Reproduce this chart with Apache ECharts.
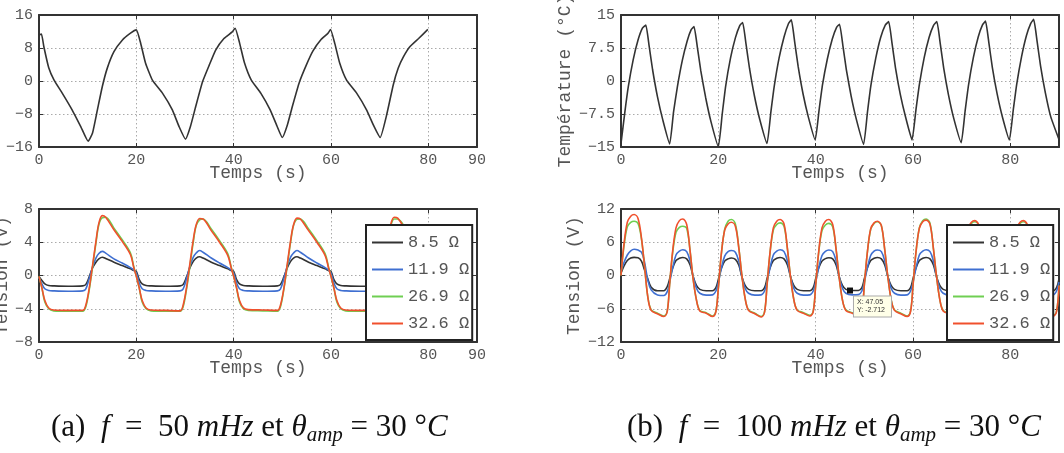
<!DOCTYPE html>
<html><head><meta charset="utf-8">
<script src="https://cdn.jsdelivr.net/npm/echarts@6/dist/echarts.min.js"></script>
<style>html,body{margin:0;padding:0;background:#fff}#c{width:1064px;height:453px}</style>
</head><body><div id="c"></div>
<script>
// ---------- legend / series names ----------
const seriesNames = ['8.5 Ω', '11.9 Ω', '26.9 Ω', '32.6 Ω'];
const seriesColors = ['#333333', '#3f6fd1', '#6fcf52', '#f0502d'];

// ---------- (a) temperature, f = 50 mHz ----------
const tempA_t = [0,0.5,1.0,2.0,3.1,4.8,6.8,8.6,10.1, 11.0,12.0,13.0,14.0,15.4,17.1,18.8,20.0,
  20.9,21.9,23.3,25.4,27.4,28.8,30.1, 31.1,32.2,33.6,35.0,36.3,38.0,39.7,40.3,
  41.2,42.2,43.6,45.6,47.5,48.9,50.0, 51.0,52.1,53.5,54.9,56.3,58.0,59.4,59.9,
  60.8,61.8,63.2,65.3,67.3,68.8,70.1, 71.4,72.8,73.8,74.9,76.2,78.0,79.9];
const tempA_v = [11.1,11.4,8.3,3.2,0.2,-3.0,-7.0,-11.1,-14.6, -12.6,-7.0,-1.4,3.0,7.1,9.9,11.6,12.4,
  9.1,4.3,0.2,-3.0,-7.0,-11.1,-14.1, -11.1,-6.2,-0.2,3.9,7.5,10.3,11.9,12.8,
  9.3,4.5,0.3,-3.0,-7.0,-10.9,-13.7, -10.8,-6.0,-0.3,3.8,7.3,10.1,11.6,12.5,
  9.0,4.3,0.2,-3.0,-7.0,-10.9,-13.7, -8.4,-0.9,3.1,5.9,8.3,10.3,12.5];

// ---------- (a) tension, f = 50 mHz ----------
const tensA_t = [0,0.6,1.2,2,3,6,9,9.6,10.3,11,11.7,12.3,13,13.7,15.4,17.1,18.8,19.5,
  20,20.6,21.2,22,23,26,29,29.6,30.3,31,31.7,32.3,33,33.7,35.4,37.1,38.8,39.5,
  40,40.6,41.2,42,43,46,49,49.6,50.3,51,51.7,52.3,53,53.7,55.4,57.1,58.8,59.5,
  60,60.6,61.2,62,63,66,69,69.6,70.3,71,71.7,72.3,73,73.7,75.4,77.1,78.8,79.5,80];
const tensA_85 = [-0.1,-0.6,-1.0,-1.2,-1.25,-1.3,-1.25,-1.1,-0.2,0.9,1.6,2.0,2.2,2.05,1.6,1.2,0.8,0.6,
  0.5,-0.5,-1.0,-1.2,-1.25,-1.3,-1.25,-1.1,-0.2,0.9,1.7,2.1,2.25,2.1,1.6,1.2,0.8,0.6,
  0.5,-0.5,-1.0,-1.2,-1.25,-1.3,-1.25,-1.1,-0.2,0.9,1.7,2.1,2.25,2.1,1.6,1.2,0.8,0.6,
  0.5,-0.5,-1.0,-1.2,-1.25,-1.3,-1.25,-1.1,-0.2,0.9,1.7,2.1,2.2,2.05,1.6,1.2,0.8,0.6, 0.5];
const tensA_119 = [-0.2,-1.0,-1.6,-1.8,-1.85,-1.9,-1.85,-1.65,-0.4,1.0,2.1,2.65,2.9,2.7,2.0,1.5,0.95,0.65,
  0.3,-0.9,-1.6,-1.8,-1.85,-1.9,-1.85,-1.65,-0.4,1.1,2.2,2.7,3.0,2.8,2.1,1.5,0.95,0.65,
  0.3,-0.9,-1.6,-1.8,-1.85,-1.9,-1.85,-1.65,-0.4,1.1,2.2,2.7,3.0,2.8,2.1,1.5,0.95,0.65,
  0.3,-0.9,-1.6,-1.8,-1.85,-1.9,-1.85,-1.65,-0.4,1.1,2.2,2.7,2.95,2.75,2.1,1.5,0.95,0.65, 0.3];
const tensA_269 = [-0.1,-1.5,-3.2,-4.0,-4.25,-4.3,-4.3,-3.8,-1.8,1.0,3.9,6.1,6.95,7.0,5.7,4.3,2.7,1.0,
  -0.1,-1.5,-3.2,-4.0,-4.25,-4.3,-4.3,-3.8,-1.7,1.1,4.0,6.0,6.7,6.8,5.6,4.2,2.6,1.0,
  -0.1,-1.5,-3.2,-4.0,-4.2,-4.25,-4.3,-3.8,-1.7,1.1,4.0,6.0,6.75,6.8,5.6,4.2,2.6,1.0,
  -0.1,-1.5,-3.2,-4.0,-4.25,-4.3,-4.3,-3.8,-1.7,1.1,4.0,6.0,6.8,6.8,5.6,4.2,2.6,1.0, -0.1];
const tensA_326 = [-0.1,-1.5,-3.0,-3.9,-4.15,-4.2,-4.2,-3.6,-1.6,1.2,4.1,6.3,7.2,7.0,5.5,4.1,2.5,0.9,
  -0.1,-1.5,-3.0,-3.9,-4.15,-4.2,-4.25,-3.6,-1.5,1.4,4.3,6.1,6.85,6.8,5.4,4.0,2.4,0.9,
  -0.1,-1.5,-3.0,-3.9,-4.1,-4.15,-4.2,-3.6,-1.6,1.3,4.2,6.1,6.9,6.8,5.4,4.0,2.4,0.9,
  -0.1,-1.5,-3.0,-3.9,-4.15,-4.2,-4.2,-3.6,-1.6,1.3,4.2,6.2,7.0,6.9,5.4,4.0,2.4,0.9, -0.1];

// ---------- (b) temperature, f = 100 mHz ----------
const tempB_t = [0,0.8,1.5,2.5,3.5,4.4,5.1,5.8,6.5,7.5,8.6,
  10.0,10.8,11.6,12.6,13.6,14.4,15.0,15.7,16.4,17.4,18.5,
  20.0,20.8,21.5,22.5,23.5,24.4,25.0,25.7,26.4,27.4,28.5,
  30.0,30.8,31.5,32.5,33.5,34.4,35.0,35.7,36.4,37.4,38.5,
  39.9,40.7,41.4,42.4,43.4,44.3,44.9,45.6,46.3,47.3,48.4,
  49.85,50.65,51.35,52.35,53.35,54.3,55.0,55.7,56.4,57.4,58.5,
  59.8,60.6,61.3,62.3,63.3,64.2,64.9,65.6,66.3,67.3,68.4,
  69.9,70.7,71.4,72.4,73.4,74.3,74.9,75.6,76.3,77.3,78.4,
  79.8,80.6,81.3,82.3,83.3,84.2,84.8,85.5,86.2,87.2,88.3,
  90.0];
const tempB_v = [-14.2,-7.0,-1.3,4.8,9.3,12.0,12.7,7.8,2.5,-3.6,-8.9,
  -14.3,-7.0,-1.2,4.7,9.1,11.6,12.35,7.6,2.3,-3.8,-9.3,
  -14.9,-7.5,-1.2,5.2,9.8,12.6,13.3,8.3,2.9,-3.3,-8.7,
  -14.2,-7.0,-1.1,5.3,10.0,13.0,13.9,8.8,3.3,-2.9,-8.2,
  -13.4,-6.6,-0.9,5.0,9.5,12.2,12.9,8.0,2.6,-3.5,-8.9,
  -14.4,-7.0,-1.0,5.2,9.9,12.7,13.5,8.5,3.0,-3.1,-8.3,
  -13.4,-6.6,-0.9,5.3,9.9,12.6,13.5,8.5,3.0,-3.2,-8.6,
  -14.0,-6.9,-1.0,5.3,10.0,12.8,13.6,8.6,3.1,-3.0,-8.3,
  -13.4,-6.6,-0.8,5.5,10.3,13.1,14.0,9.0,3.5,-2.7,-8.1,
  -13.3];

// ---------- (b) tension, f = 100 mHz ----------
const tensB_t = [0,0.6,1.3,2,2.7,3.5,4.2,4.8,5.5,6.2,7.5,8.8,9.5,
  10,10.6,11.3,12,12.7,13.5,14.2,14.8,15.5,16.2,17.5,18.8,19.5,
  20,20.6,21.3,22,22.7,23.5,24.2,24.8,25.5,26.2,27.5,28.8,29.5,
  30,30.6,31.3,32,32.7,33.5,34.2,34.8,35.5,36.2,37.5,38.8,39.5,
  40,40.6,41.3,42,42.7,43.5,44.2,44.8,45.5,46.2,47.5,48.8,49.5,
  50,50.6,51.3,52,52.7,53.5,54.2,54.8,55.5,56.2,57.5,58.8,59.5,
  60,60.6,61.3,62,62.7,63.5,64.2,64.8,65.5,66.2,67.5,68.8,69.5,
  70,70.6,71.3,72,72.7,73.5,74.2,74.8,75.5,76.2,77.5,78.8,79.5,
  80,80.6,81.3,82,82.7,83.5,84.2,84.8,85.5,86.2,87.5,88.8,89.5, 90];
const tensB_85 = [0.4,1.7,2.7,3.15,3.27,3.2,2.6,1.1,-0.6,-2.1,-2.75,-2.75,-2.0,
  -0.6,1.3,2.7,3.1,3.25,3.0,1.9,-0.1,-1.8,-2.5,-2.75,-2.75,-2.2,
  -0.7,1.2,2.6,3.0,3.15,2.9,1.9,-0.1,-1.8,-2.5,-2.75,-2.75,-2.2,
  -0.6,1.3,2.7,3.1,3.25,3.0,1.9,-0.1,-1.8,-2.5,-2.75,-2.75,-2.2,
  -0.6,1.3,2.6,3.05,3.2,3.0,1.9,-0.1,-1.8,-2.5,-2.72,-2.72,-2.2,
  -0.6,1.3,2.7,3.1,3.25,3.0,1.9,-0.1,-1.8,-2.5,-2.75,-2.75,-2.2,
  -0.6,1.3,2.7,3.1,3.25,3.0,1.9,-0.1,-1.8,-2.5,-2.75,-2.75,-2.2,
  -0.6,1.3,2.7,3.1,3.2,3.0,1.9,-0.1,-1.8,-2.5,-2.75,-2.75,-2.2,
  -0.6,1.3,2.7,3.1,3.2,3.0,1.9,-0.1,-1.8,-2.5,-2.75,-2.75,-2.2, -0.6];
const tensB_119 = [0.7,2.3,3.7,4.45,4.75,4.6,4.2,2.6,-0.8,-2.6,-3.5,-3.6,-2.9,
  -1.2,1.3,3.7,4.4,4.65,4.3,2.6,-0.1,-2.3,-3.2,-3.55,-3.5,-2.8,
  -1.3,1.2,3.5,4.3,4.5,4.2,2.6,-0.1,-2.3,-3.2,-3.55,-3.5,-2.8,
  -1.2,1.3,3.7,4.4,4.65,4.3,2.6,-0.1,-2.3,-3.2,-3.55,-3.5,-2.8,
  -1.2,1.3,3.6,4.35,4.6,4.3,2.6,-0.1,-2.3,-3.2,-3.5,-3.45,-2.8,
  -1.2,1.3,3.6,4.4,4.6,4.3,2.6,-0.1,-2.3,-3.2,-3.55,-3.5,-2.8,
  -1.2,1.3,3.7,4.4,4.65,4.3,2.6,-0.1,-2.3,-3.2,-3.55,-3.5,-2.8,
  -1.2,1.3,3.6,4.4,4.6,4.3,2.6,-0.1,-2.3,-3.2,-3.55,-3.5,-2.8,
  -1.2,1.3,3.6,4.4,4.6,4.3,2.6,-0.1,-2.3,-3.2,-3.55,-3.5,-2.8, -1.2];
const tensB_269 = [0.0,5.2,8.8,9.6,9.8,9.4,6.6,2.0,-3.8,-6.2,-6.8,-7.3,-6.4,
  -1.5,4.0,7.8,8.7,8.9,8.5,4.4,-0.5,-4.4,-6.3,-6.7,-7.3,-6.4,
  -2.3,3.7,8.3,9.8,10.1,9.3,5.1,0.3,-4.1,-6.2,-6.8,-7.4,-6.5,
  -1.8,3.9,8.2,9.2,9.5,8.9,4.8,0.0,-4.3,-6.2,-6.7,-7.2,-6.4,
  -1.8,4.0,8.1,9.1,9.4,8.8,4.7,-0.1,-4.4,-6.2,-6.7,-7.1,-6.3,
  -1.7,4.0,8.3,9.4,9.7,9.0,4.6,0.0,-4.3,-6.2,-6.8,-7.3,-6.4,
  -1.8,4.1,8.6,9.9,10.2,9.4,4.8,0.1,-4.3,-6.3,-6.8,-7.3,-6.4,
  -1.8,4.0,8.4,9.4,9.7,9.0,4.7,0.0,-4.3,-6.2,-6.8,-7.2,-6.4,
  -1.8,4.0,8.4,9.4,9.7,9.0,4.7,0.0,-4.3,-6.2,-6.7,-7.2,-6.4, -1.8];
const tensB_326 = [0.0,5.6,9.6,10.7,11.0,10.3,6.8,2.0,-3.8,-6.3,-6.9,-7.4,-6.5,
  -1.5,4.3,8.6,9.9,10.2,9.2,4.4,-0.5,-4.4,-6.4,-6.8,-7.4,-6.5,
  -2.3,3.8,8.2,9.3,9.6,8.9,5.0,0.3,-4.1,-6.3,-6.9,-7.5,-6.6,
  -1.8,4.0,8.6,9.8,10.1,9.3,4.8,0.0,-4.3,-6.3,-6.8,-7.3,-6.5,
  -1.8,4.1,8.6,9.8,10.1,9.2,4.7,-0.1,-4.4,-6.3,-6.8,-7.2,-6.4,
  -1.7,4.0,8.4,9.5,9.8,9.0,4.6,0.0,-4.3,-6.3,-6.9,-7.4,-6.5,
  -1.8,4.1,8.5,9.7,10.0,9.2,4.8,0.1,-4.3,-6.4,-6.9,-7.4,-6.5,
  -1.8,4.0,8.5,9.6,9.9,9.1,4.7,0.0,-4.3,-6.3,-6.9,-7.3,-6.5,
  -1.8,4.0,8.5,9.6,9.9,9.1,4.7,0.0,-4.3,-6.3,-6.8,-7.3,-6.5, -1.8];

// data tip shown on the 100 mHz tension plot
const tipPoint = [47.05, -2.712];
const tipText = 'X: 47.05\nY: -2.712';

// axis ticks
const xTicks = { min: 0, max: 90, interval: 20 };
const yTempA = { min: -16, max: 16, interval: 8 };
const yTensA = { min: -8, max: 8, interval: 4 };
const yTempB = { min: -15, max: 15, interval: 7.5 };
const yTensB = { min: -12, max: 12, interval: 6 };

// ---------- helpers ----------
const MONO = "'Liberation Mono','DejaVu Sans Mono',monospace";
const TXT = '#555';
const zip = (t, v) => t.map((x, i) => [x, v[i]]);
const fmtNum = v => (v < 0 ? '\u2212' : '') + String(Math.abs(v));

const grids = [
  { left: 39, top: 15, width: 438, height: 132 },
  { left: 39, top: 209, width: 438, height: 133 },
  { left: 621, top: 15, width: 438, height: 132 },
  { left: 621, top: 209, width: 438, height: 133 }
].map(g => Object.assign(g, { containLabel: false, outerBoundsMode: 'none' }));

const AXLINE = { show: true, onZero: false, lineStyle: { color: '#333', width: 2 } };
const AXTICK = { show: true, inside: true, length: 4, lineStyle: { color: '#333', width: 1 } };
const SPLIT = { show: true, lineStyle: { type: [1.5, 2.5], color: '#aaa', width: 1 } };

function xMain(gi, hide90) {
  return {
    type: 'value', gridIndex: gi, min: xTicks.min, max: xTicks.max, interval: xTicks.interval,
    axisLine: AXLINE, axisTick: AXTICK, splitLine: SPLIT,
    axisLabel: { margin: 6, fontFamily: MONO, fontSize: 15, color: TXT,
      formatter: v => (hide90 && v === 90) ? '' : fmtNum(v) },
    name: 'Temps (s)', nameLocation: 'middle', nameGap: 17, nameMoveOverlap: false,
    nameTextStyle: { fontFamily: MONO, fontSize: 18, color: TXT }
  };
}
function xMirror(gi) {
  return {
    type: 'value', gridIndex: gi, position: 'top', min: xTicks.min, max: xTicks.max, interval: xTicks.interval,
    axisLine: AXLINE, axisTick: AXTICK, axisLabel: { show: false }, splitLine: { show: false }
  };
}
function yMain(gi, sc) {
  return {
    type: 'value', gridIndex: gi, min: sc.min, max: sc.max, interval: sc.interval,
    axisLine: AXLINE, axisTick: AXTICK, splitLine: SPLIT,
    axisLabel: { margin: 6, fontFamily: MONO, fontSize: 15, color: TXT, formatter: fmtNum }
  };
}
function yMirror(gi, sc) {
  return {
    type: 'value', gridIndex: gi, position: 'right', min: sc.min, max: sc.max, interval: sc.interval,
    axisLine: AXLINE, axisTick: AXTICK, axisLabel: { show: false }, splitLine: { show: false }
  };
}

function lineSeries(name, xi, data, color, smooth) {
  return {
    type: 'line', name: name, xAxisIndex: xi, yAxisIndex: xi, data: data,
    symbol: 'none', smooth: smooth,
    lineStyle: { color: color, width: 1.6 }, itemStyle: { color: color },
    silent: true
  };
}

const tensA = [tensA_85, tensA_119, tensA_269, tensA_326];
const tensB = [tensB_85, tensB_119, tensB_269, tensB_326];

const series = [
  lineSeries('Température (a)', 0, zip(tempA_t, tempA_v), '#333333', 0.15),
  lineSeries('Température (b)', 2, zip(tempB_t, tempB_v), '#333333', 0.15)
];
seriesNames.forEach((n, i) => series.push(lineSeries(n, 1, zip(tensA_t, tensA[i]), seriesColors[i], 0.35)));
seriesNames.forEach((n, i) => series.push(lineSeries(n, 3, zip(tensB_t, tensB[i]), seriesColors[i], 0.35)));
// data tip on the 8.5 Ω curve of (b)
series[6].markPoint = {
  symbol: 'rect', symbolSize: 6, itemStyle: { color: '#111' }, animation: false,
  data: [{ coord: tipPoint }],
  label: { show: true, position: [7, 9], formatter: tipText, fontSize: 7, lineHeight: 8,
    fontFamily: "'Liberation Sans',sans-serif", color: '#333', backgroundColor: '#ffffe8',
    borderColor: '#aaa', borderWidth: 1, padding: [2, 6, 2, 3], align: 'left' }
};

function legendAt(left) {
  return {
    show: true, orient: 'vertical', left: left, top: 225, padding: [9, 3, 8, 6],
    itemGap: 10, itemWidth: 31, itemHeight: 2, icon: 'rect', selectedMode: false,
    borderColor: '#222', borderWidth: 2, backgroundColor: '#fff',
    textStyle: { fontFamily: MONO, fontSize: 17, lineHeight: 14, color: TXT },
    data: seriesNames
  };
}

// rotated y-axis titles (placed freely so they may run off the page edge as in the original)
function yTitle(x, y, text) {
  return { type: 'text', x: x, y: y, rotation: Math.PI / 2, silent: true,
    style: { text: text, fontFamily: MONO, fontSize: 18, fill: TXT, align: 'center', verticalAlign: 'middle' } };
}

const SERIF = "'Liberation Serif','DejaVu Serif',serif";
const capRich = {
  n: { fontFamily: SERIF, fontSize: 31, lineHeight: 36, verticalAlign: 'middle', fill: '#111' },
  i: { fontFamily: SERIF, fontSize: 31, fontStyle: 'italic', lineHeight: 36, verticalAlign: 'middle', fill: '#111' },
  s: { fontFamily: SERIF, fontSize: 21, fontStyle: 'italic', lineHeight: 20, verticalAlign: 'bottom', fill: '#111' }
};
function caption(x, label, freq) {
  return {
    type: 'text', left: x, top: 412, silent: true,
    style: {
      text: '{n|(' + label + ')  }{i|f}{n|  =  ' + freq + ' }{i|mHz}{n| et }{i|θ}{s|amp}{n| = 30 °}{i|C}',
      rich: capRich
    }
  };
}

const chart = echarts.init(document.getElementById('c'), null, { renderer: 'canvas' });
chart.setOption({
  animation: false,
  backgroundColor: '#fff',
  grid: grids,
  xAxis: [xMain(0, false), xMain(1, false), xMain(2, true), xMain(3, true),
          xMirror(0), xMirror(1), xMirror(2), xMirror(3)],
  yAxis: [yMain(0, yTempA), yMain(1, yTensA), yMain(2, yTempB), yMain(3, yTensB),
          yMirror(0, yTempA), yMirror(1, yTensA), yMirror(2, yTempB), yMirror(3, yTensB)],
  legend: [legendAt(366), legendAt(947)],
  series: series,
  graphic: [
    yTitle(-10, 81, 'Température (°C)'), yTitle(2, 275.6, 'Tension (V)'),
    yTitle(565, 81, 'Température (°C)'), yTitle(574, 275.6, 'Tension (V)'),
    caption(51, 'a', '50'), caption(627, 'b', '100')
  ]
});
</script></body></html>
